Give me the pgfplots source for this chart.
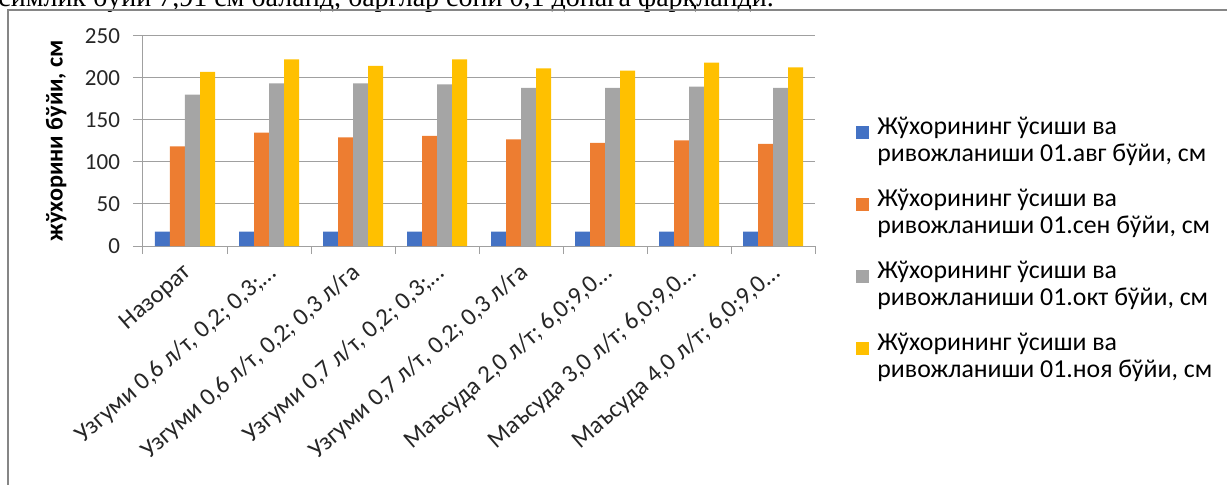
\documentclass[border=0pt]{standalone}
\usepackage{pgfplots}
\pgfplotsset{compat=1.18}
\usepackage{fontspec}
\setmainfont{Carlito}
\newfontfamily\serifdoc{Liberation Serif}
\definecolor{cBlue}{HTML}{4472C4}
\definecolor{cOrange}{HTML}{ED7D31}
\definecolor{cGray}{HTML}{A5A5A5}
\definecolor{cYellow}{HTML}{FFC000}
\definecolor{gridc}{HTML}{A0A0A0}
\begin{document}
\begin{tikzpicture}
\useasboundingbox (0,0) rectangle (613.5pt,-242pt);
\clip (0,0) rectangle (613.5pt,-242pt);
\node[anchor=base west, inner sep=0pt, font=\serifdoc\fontsize{14}{16}\selectfont] at (-1pt,-3.3pt) {симлик бўйи 7,91 см баланд, барглар сони 0,1 донага фарқланди.};
\draw[gray!95, line width=0.75pt] (4pt,-260pt) -- (4pt,-5pt) -- (630pt,-5pt);
\begin{axis}[
  at={(71.5pt,-123pt)}, anchor=south west,
  scale only axis, width=336pt, height=105.15pt,
  ybar=0pt, bar width=7.5pt,
  xmin=-0.5, xmax=7.5, ymin=0, ymax=250,
  ytick={0,50,...,250},
  xtick={0,...,7},
  minor xtick={-0.5,0.5,...,7.5},
  xticklabels={{Назорат},{Узгуми 0,6 л/т, 0,2; 0,3;…},{Узгуми 0,6 л/т, 0,2; 0,3 л/га},{Узгуми 0,7 л/т, 0,2; 0,3;…},{Узгуми 0,7 л/т, 0,2; 0,3 л/га},{Маъсуда 2,0 л/т; 6,0;9,0…},{Маъсуда 3,0 л/т; 6,0;9,0…},{Маъсуда 4,0 л/т; 6,0;9,0…}},
  axis lines*=left,
  axis line style={gridc, line width=0.5pt, -},
  tick align=outside,
  major tick length=5pt, minor tick length=4pt,
  every major x tick/.append style={draw=none},
  every minor x tick/.append style={gridc, line width=0.5pt},
  ytick style={gridc, line width=0.5pt},
  ymajorgrids, grid style={gridc, line width=0.5pt},
  /pgf/number format/assume math mode=true,
  yticklabel style={font=\fontsize{11.5}{13}\selectfont, text=black!85, xshift=-3pt},
  xticklabel style={rotate=41, anchor=north east, font=\fontsize{12.4}{14}\selectfont, text=black!85, inner sep=1pt, xshift=-2pt, yshift=0pt},
  every axis y label/.style={at={(axis description cs:-0.129,0.5)}, rotate=90, anchor=center, font=\fontsize{12.1}{13}\selectfont\bfseries},
  ylabel={жўхорини бўйи, см},
  legend style={at={(rel axis cs:1.061,0.613)}, anchor=north west, draw=none, fill=none, inner sep=0pt,
    font=\fontsize{12.9}{13.5}\selectfont, nodes={align=left, inner sep=0pt}, column sep=4pt, row sep=12.25pt},
  legend cell align=left,
  legend image code/.code={\fill[#1] (0pt,1pt) rectangle (6.5pt,7.5pt);},
]
\addplot[fill=cBlue, draw=none] coordinates {(0,17) (1,17) (2,17) (3,17) (4,17) (5,17) (6,17) (7,17)};
\addlegendentry{Жўхорининг ўсиши ва\\ривожланиши 01.авг бўйи, см}
\addplot[fill=cOrange, draw=none] coordinates {(0,118.5) (1,134.7) (2,129.2) (3,130.8) (4,126.8) (5,122.5) (6,125.7) (7,121.3)};
\addlegendentry{Жўхорининг ўсиши ва\\ривожланиши 01.сен бўйи, см}
\addplot[fill=cGray, draw=none] coordinates {(0,180) (1,193.4) (2,193.4) (3,192.2) (4,187.9) (5,187.9) (6,189.5) (7,187.9)};
\addlegendentry{Жўхорининг ўсиши ва\\ривожланиши 01.окт бўйи, см}
\addplot[fill=cYellow, draw=none] coordinates {(0,207) (1,222) (2,214) (3,222) (4,211.3) (5,208.5) (6,218) (7,212.5)};
\addlegendentry{Жўхорининг ўсиши ва\\ривожланиши 01.ноя бўйи, см}
\end{axis}
\end{tikzpicture}
\end{document}
